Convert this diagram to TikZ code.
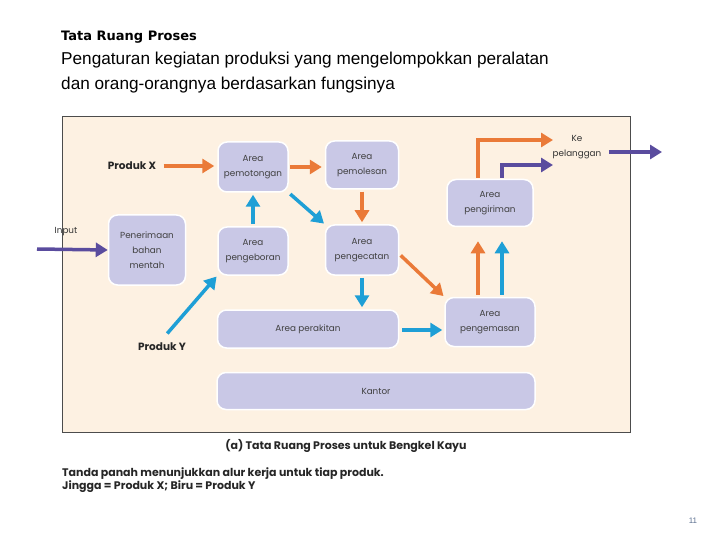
\documentclass[tikz,border=0pt]{standalone}
\usepackage{fontspec}
\setmainfont{Liberation Sans}
\newfontfamily\titlefont{DejaVu Sans}
\newfontfamily\gothic{Poppins}
\usetikzlibrary{positioning,arrows.meta}

\definecolor{frameback}{HTML}{FDF1E2}
\definecolor{areafill}{HTML}{C9C8E6}
\definecolor{jingga}{HTML}{EA7A38}
\definecolor{biru}{HTML}{1E9FD6}
\definecolor{ungu}{HTML}{5A4C9E}
\definecolor{pagenum}{HTML}{5C7090}

\begin{document}
\begin{tikzpicture}[x=1pt, y=-1pt,
  area/.style={draw=white, line width=1.5pt, fill=areafill, rounded corners=9pt,
    align=center, inner sep=0pt, text=black!75,
    font=\gothic\fontsize{8.8}{15}\selectfont},
  lbl/.style={font=\gothic\bfseries\fontsize{10.5}{12}\selectfont, text=black!85},
  kecil/.style={font=\gothic\fontsize{8.8}{15}\selectfont, text=black!80},
  alur/.style={line width=3.5pt, -{Triangle[length=12pt,width=14pt]}},
  alurX/.style={alur, jingga},
  alurY/.style={alur, biru},
  alurU/.style={alur, ungu}]
  \useasboundingbox (0,0) rectangle (720,540);

  % Heading
  \node[anchor=base west, inner sep=0pt, font=\titlefont\bfseries\fontsize{13}{15}\selectfont] (judul) at (61,41) {Tata Ruang Proses};
  \node[anchor=base west, inner sep=0pt, align=left, font=\fontsize{17.2}{25}\selectfont] (definisi) at (61,90)
    {Pengaturan kegiatan produksi yang mengelompokkan peralatan\\dan orang-orangnya berdasarkan fungsinya};

  % Background panel
  \draw[black!70, line width=1pt, fill=frameback] (62,117) rectangle (630,432);

  % Areas
  \node[area, minimum width=70, minimum height=50] (pemotongan) at (253,167) {Area\\pemotongan};
  \node[area, minimum width=73, minimum height=48] (pemolesan) at (362,165) {Area\\pemolesan};
  \node[area, minimum width=77, minimum height=70] (penerimaan) at (147,250) {Penerimaan\\bahan\\mentah};
  \node[area, minimum width=70, minimum height=48] (pengeboran) at (253,251) {Area\\pengeboran};
  \node[area, minimum width=73, minimum height=50] (pengecatan) at (362,250) {Area\\pengecatan};
  \node[area, minimum width=86, minimum height=47] (pengiriman) at (490,203) {Area\\pengiriman};
  \node[area, minimum width=90, minimum height=49] (pengemasan) at (490,322) {Area\\pengemasan};
  \node[area, minimum width=181, minimum height=38] (perakitan) at (308,329) {Area perakitan};
  \node[area, minimum width=318, minimum height=37] (kantor) at (376,391) {Kantor};

  % Labels
  \node[lbl] (produkX) at (132,166) {Produk X};
  \node[lbl] (produkY) at (162,347) {Produk Y};
  \node[kecil] (input) at (66,232) {Input};
  \node[kecil, align=center] (pelanggan) at (577,147) {Ke\\pelanggan};
  \coordinate (masuk) at (37,249);
  \coordinate (keluarX) at (553,140);
  \coordinate (keluarY) at (553,165);
  \coordinate (keluar) at (662,152);

  % Produk X (jingga)
  \draw[alurX, shorten <=4pt, shorten >=3pt] (produkX.east) -- (produkX.east -| pemotongan.west);
  \draw[alurX, shorten <=1pt, shorten >=3pt] (pemotongan.east) -- (pemotongan.east -| pemolesan.west);
  \draw[alurX, shorten <=2pt, shorten >=2pt] (pemolesan.south) -- (pengecatan.north);
  \draw[alurX, shorten <=2pt, shorten >=1pt] ([yshift=-4pt]pengecatan.east) -- (pengemasan.north west);
  \draw[alurX, shorten <=2pt, shorten >=14pt] ([xshift=-12pt]pengemasan.north) -- ([xshift=-12pt]pengiriman.south);
  \draw[alurX, shorten <=1pt] ([xshift=-12pt]pengiriman.north) |- (keluarX);

  % Produk Y (biru)
  \draw[alurY, shorten <=8pt, shorten >=1pt] (produkY.north) -- (pengeboran.south west);
  \draw[alurY, shorten <=2pt, shorten >=2pt] (pengeboran.north) -- (pemotongan.south);
  \draw[alurY, shorten <=2pt, shorten >=1pt] (pemotongan.south east) -- (pengecatan.north west);
  \draw[alurY, shorten <=2pt, shorten >=2pt] (pengecatan.south) -- (pengecatan.south |- perakitan.north);
  \draw[alurY, shorten <=3pt, shorten >=2pt] ([yshift=-1pt]perakitan.east) -- ([yshift=-1pt]perakitan.east -| pengemasan.west);
  \draw[alurY, shorten <=2pt, shorten >=14pt] ([xshift=12pt]pengemasan.north) -- ([xshift=12pt]pengiriman.south);
  \draw[alurU, shorten <=1pt] ([xshift=12pt]pengiriman.north) |- (keluarY);

  % Masuk dan keluar
  \draw[alurU] (masuk) -- (penerimaan.west);
  \draw[alurU, shorten <=4pt] (pelanggan.east |- keluar) -- (keluar);

  % Captions
  \node[font=\gothic\bfseries\fontsize{11}{12}\selectfont, text=black!85] (judulgambar) at (346,446)
    {(a) Tata Ruang Proses untuk Bengkel Kayu};
  \node[anchor=base west, inner sep=0pt, align=left, font=\gothic\bfseries\fontsize{11}{13}\selectfont, text=black!85] (keterangan) at (62,489)
    {Tanda panah menunjukkan alur kerja untuk tiap produk.\\Jingga = Produk X; Biru = Produk Y};
  \node[font=\fontsize{8}{9}\selectfont, text=pagenum] (halaman) at (693,521) {11};
\end{tikzpicture}
\end{document}
